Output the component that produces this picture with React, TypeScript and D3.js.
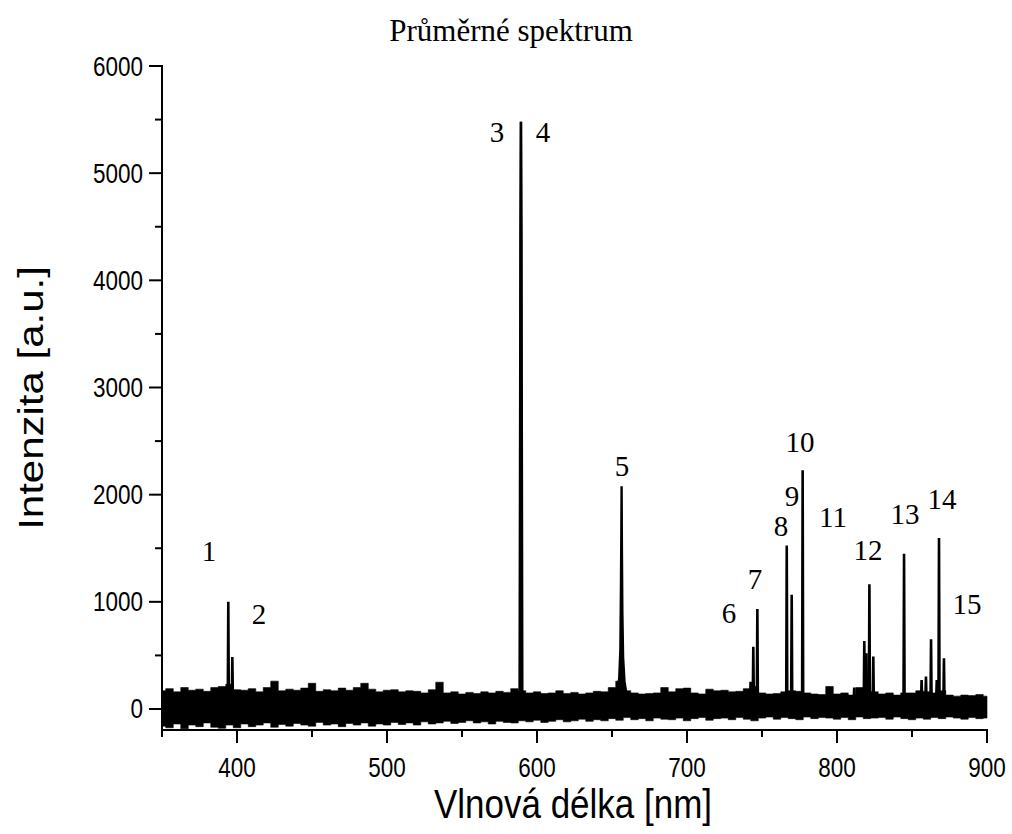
import React from 'react';
import * as d3 from 'd3';

const W = 1012;
const H = 834;

// Axis ranges and ticks
const xDomain = [350, 900];
const yDomain = [-196, 6000];
const xMajorTicks = [400, 500, 600, 700, 800, 900];
const xMinorTicks = [350, 450, 550, 650, 750, 850];
const yMajorTicks = [0, 1000, 2000, 3000, 4000, 5000, 6000];
const yMinorTicks = [500, 1500, 2500, 3500, 4500, 5500];

// Noise band envelope (5 nm step starting at 350 nm)
const noiseStart = 350;
const noiseStep = 5;
const noiseTop = [
  170, 190, 160, 200, 175, 185, 165, 200, 210, 230, 180, 175, 190, 160, 200, 260, 170, 185, 175, 195,
  240, 165, 180, 170, 195, 175, 200, 240, 185, 160, 175, 180, 160, 170, 165, 150, 180, 250, 150, 160,
  140, 155, 145, 160, 150, 165, 155, 190, 170, 150, 160, 145, 150, 170, 145, 155, 140, 150, 165, 160,
  200, 260, 170, 150, 140, 145, 150, 200, 160, 190, 195, 150, 140, 185, 170, 175, 160, 165, 190, 210,
  150, 140, 145, 160, 170, 165, 150, 140, 135, 210, 140, 150, 130, 200, 170, 160, 140, 150, 130, 150,
  150, 170, 160, 150, 170, 130, 120, 130, 125, 135, 120,
];
const noiseBottom = [
  -160, -175, -140, -185, -150, -165, -130, -170, -180, -150, -175, -140, -165, -150, -130, -170, -145, -160, -135, -150,
  -160, -125, -150, -140, -165, -135, -150, -130, -160, -140, -150, -125, -145, -130, -150, -120, -140, -130, -115, -135,
  -125, -110, -130, -120, -140, -115, -125, -130, -110, -120, -105, -125, -115, -100, -120, -110, -95, -115, -100, -110,
  -90, -105, -80, -100, -90, -110, -85, -95, -100, -85, -110, -90, -80, -105, -90, -85, -100, -80, -95, -110,
  -85, -75, -95, -80, -90, -100, -75, -90, -80, -85, -95, -80, -100, -75, -90, -85, -80, -95, -75, -90,
  -100, -85, -95, -80, -90, -75, -85, -95, -80, -90, -85,
];

// Emission lines (wavelength nm, intensity a.u.)
const lineWavelengths = [
  394.2, 396.9, 589.3, 742.4, 744.2, 746.9, 766.5, 769.8, 777.1, 794.9, 811.5,
  818.2, 819.6, 821.6, 824.2, 844.7, 856.4, 859.3, 862.7, 866.5, 868.0, 871.3,
];
const lineIntensities = [
  1000, 486, 5480, 255, 580, 932, 1526, 1065, 2227, 208, 200,
  635, 520, 1165, 490, 1449, 271, 302, 651, 270, 1595, 474,
];

// H-alpha profile (broadened)
const halphaWavelengths = [653.0, 654.8, 655.6, 656.0, 656.2, 656.4, 656.6, 656.9, 657.4, 658.3, 659.5];
const halphaIntensities = [150, 280, 560, 1190, 1600, 2078, 1500, 900, 480, 260, 150];

// Na D doublet lower wing
const naWavelengths = [588.3, 588.9, 589.3, 589.7, 590.3];
const naIntensities = [120, 4400, 5480, 4400, 120];

// Peak annotations
const peakLabels = ['1', '2', '3', '4', '5', '6', '7', '8', '9', '10', '11', '12', '13', '14', '15'];
const peakLabelWavelengths = [381.3, 414.7, 573.3, 604.0, 656.7, 728.0, 745.3, 762.7, 770.0, 775.3, 797.3, 820.7, 845.3, 870.0, 886.7];
const peakLabelIntensities = [1470, 890, 5380, 5380, 2270, 900, 1210, 1710, 1990, 2490, 1790, 1480, 1820, 1960, 980];

const title = 'Průměrné spektrum';
const xTitle = 'Vlnová délka [nm]';
const yTitle = 'Intenzita [a.u.]';

export default function App() {
  const x = d3.scaleLinear().domain(xDomain).range([162, 987]);
  const y = d3.scaleLinear().domain(yDomain).range([730, 66]);

  const noisePts = noiseTop.map((t, i) => ({ w: noiseStart + i * noiseStep, t, b: noiseBottom[i] }));
  const area = d3
    .area<{ w: number; t: number; b: number }>()
    .x((d) => x(d.w))
    .y0((d) => y(d.b))
    .y1((d) => y(d.t))
    .curve(d3.curveStep);

  const spike = d3.line<[number, number]>().x((d) => x(d[0])).y((d) => y(d[1]));
  const hw = 0.35;
  const base = 100;

  const halpha: [number, number][] = halphaWavelengths.map((w, i) => [w, halphaIntensities[i]]);
  const naD: [number, number][] = naWavelengths.map((w, i) => [w, naIntensities[i]]);

  const serif = '"Liberation Serif", "Times New Roman", serif';
  const sans = '"Liberation Sans", Arial, sans-serif';
  const stretch = 1.2;

  return (
    <svg width={W} height={H} style={{ position: 'absolute', left: 0, top: 0, background: '#fff' }}>
      <rect x={0} y={0} width={W} height={H} fill="#fff" />
      <text
        transform={`translate(511, 41) scale(1, 1.05)`}
        textAnchor="middle"
        fontFamily={serif}
        fontSize={31}
        fill="#000"
      >
        {title}
      </text>

      <defs>
        <clipPath id="plotClip">
          <rect x={162} y={60} width={826} height={670} />
        </clipPath>
      </defs>

      <g clipPath="url(#plotClip)">
        <path d={area(noisePts) || ''} fill="#000" stroke="#000" strokeWidth={0.6} />
        {lineWavelengths.map((w, i) => (
          <path
            key={i}
            d={spike([
              [w - hw, base],
              [w, lineIntensities[i]],
              [w + hw, base],
            ]) || ''}
            fill="#000"
            stroke="#000"
            strokeWidth={2.6}
            strokeLinejoin="miter"
          />
        ))}
        <path d={spike(naD) || ''} fill="#000" stroke="#000" strokeWidth={2.2} />
        <path d={spike(halpha) || ''} fill="#000" stroke="#000" strokeWidth={2.4} />
      </g>

      {/* Axes */}
      <line x1={162} x2={162} y1={65} y2={731} stroke="#000" strokeWidth={2} />
      <line x1={161} x2={988} y1={730} y2={730} stroke="#000" strokeWidth={2} />
      {yMajorTicks.map((t) => (
        <g key={'ym' + t}>
          <line x1={149} x2={162} y1={y(t)} y2={y(t)} stroke="#000" strokeWidth={2} />
          <text
            transform={`translate(143, ${y(t) + 9.5}) scale(1, ${stretch})`}
            textAnchor="end"
            fontFamily={sans}
            fontSize={22.5}
            fill="#000"
          >
            {t}
          </text>
        </g>
      ))}
      {yMinorTicks.map((t) => (
        <line key={'yn' + t} x1={155} x2={162} y1={y(t)} y2={y(t)} stroke="#000" strokeWidth={2} />
      ))}
      {xMajorTicks.map((t) => (
        <g key={'xm' + t}>
          <line x1={x(t)} x2={x(t)} y1={730} y2={743} stroke="#000" strokeWidth={2} />
          <text
            transform={`translate(${x(t)}, 777) scale(1, ${stretch})`}
            textAnchor="middle"
            fontFamily={sans}
            fontSize={22.5}
            fill="#000"
          >
            {t}
          </text>
        </g>
      ))}
      {xMinorTicks.map((t) => (
        <line key={'xn' + t} x1={x(t)} x2={x(t)} y1={730} y2={737} stroke="#000" strokeWidth={2} />
      ))}

      <text
        transform={`translate(573, 818) scale(1, 1.15)`}
        textAnchor="middle"
        fontFamily={sans}
        fontSize={35}
        fill="#000"
      >
        {xTitle}
      </text>
      <text
        transform={`translate(43, 398) rotate(-90) scale(1.2, 1)`}
        textAnchor="middle"
        fontFamily={sans}
        fontSize={35}
        fill="#000"
      >
        {yTitle}
      </text>

      {peakLabels.map((l, i) => (
        <text
          key={'pl' + i}
          transform={`translate(${x(peakLabelWavelengths[i])}, ${y(peakLabelIntensities[i]) + 10}) scale(1, 1.05)`}
          textAnchor="middle"
          fontFamily={serif}
          fontSize={29}
          fill="#000"
        >
          {l}
        </text>
      ))}
    </svg>
  );
}
